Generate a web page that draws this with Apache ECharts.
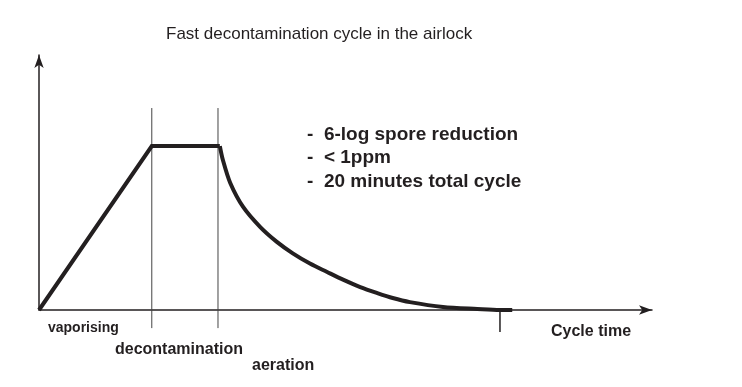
<!DOCTYPE html>
<html>
<head>
<meta charset="utf-8">
<script src="https://cdn.jsdelivr.net/npm/echarts@6/dist/echarts.min.js"></script>
<style>html,body{margin:0;padding:0;background:#fff}#c{width:742px;height:387px}</style>
</head>
<body>
<div id="c"></div>
<script>
// Concentration profile (time units 0..100, concentration 0..100)
const rampTime = [0, 18.4, 29.5];
const rampConc = [0, 64.3, 64.3];
const decayTime = [29.5, 30.0, 31.2, 33.3, 36.1, 38.8, 41.4, 44.2, 47.0, 49.6, 52.4, 55.1, 57.7, 60.5, 65.9, 71.5, 75.2, 77.2];
const decayConc = [64.3, 58.8, 49.8, 40.4, 32.5, 26.7, 22.2, 18.2, 14.9, 11.9, 9.0, 6.7, 4.7, 3.1, 1.2, 0.4, 0, 0];
// phase boundary markers
const phaseTimes = [18.4, 29.2];
const phaseBottom = -7.1;
const phaseTop = 79.2;
const endTime = 75.2;
const endBottom = -8.6;
const phaseNames = ['vaporising', 'decontamination', 'aeration'];
const notes = ['-  6-log spore reduction', '-  < 1ppm', '-  20 minutes total cycle'];
const titleText = 'Fast decontamination cycle in the airlock';
const xName = 'Cycle time';

const ink = '#231f20';
const chart = echarts.init(document.getElementById('c'));
const zip = (a, b) => a.map((v, i) => [v, b[i]]);
const series = [
  { type: 'line', data: zip(rampTime, rampConc), symbol: 'none', lineStyle: { color: ink, width: 4, join: 'miter' }, z: 5 },
  { type: 'line', data: zip(decayTime, decayConc), symbol: 'none', smooth: 0.3, lineStyle: { color: ink, width: 4 }, z: 5 }
];
phaseTimes.forEach(t => series.push({
  type: 'line', clip: false, symbol: 'none', data: [[t, phaseBottom], [t, phaseTop]],
  lineStyle: { color: '#444', width: 1 }, z: 2
}));
series.push({ type: 'line', clip: false, symbol: 'none', data: [[endTime, 0], [endTime, endBottom]], lineStyle: { color: ink, width: 1.5 }, z: 2 });

const lbl = (text, left, top, size) => ({ type: 'text', left, top, style: { text, fontFamily: 'Liberation Sans', fontWeight: 'bold', fontSize: size, fill: ink } });
const graphic = [
  lbl(phaseNames[0], 48, 321, 14),
  lbl(phaseNames[1], 115, 342, 16),
  lbl(phaseNames[2], 252, 358, 16),
  lbl(xName, 551, 324, 16)
];
notes.forEach((n, i) => graphic.push(lbl(n, 307, 125 + i * 23.5, 19)));

chart.setOption({
  animation: false,
  backgroundColor: '#fff',
  title: { text: titleText, left: 161, top: 21, textStyle: { fontFamily: 'Liberation Sans', fontWeight: 'normal', fontSize: 17, color: ink } },
  grid: { left: 39, right: 90, top: 55, bottom: 77 },
  xAxis: { type: 'value', min: 0, max: 100, axisLine: { lineStyle: { color: ink, width: 1.5 }, symbol: ['none', 'arrow'], symbolSize: [7, 13] }, axisTick: { show: false }, axisLabel: { show: false }, splitLine: { show: false } },
  yAxis: { type: 'value', min: 0, max: 100, axisLine: { show: true, lineStyle: { color: ink, width: 1.5 }, symbol: ['none', 'arrow'], symbolSize: [7, 13] }, axisTick: { show: false }, axisLabel: { show: false }, splitLine: { show: false } },
  series: series,
  graphic: graphic
});
</script>
</body>
</html>
